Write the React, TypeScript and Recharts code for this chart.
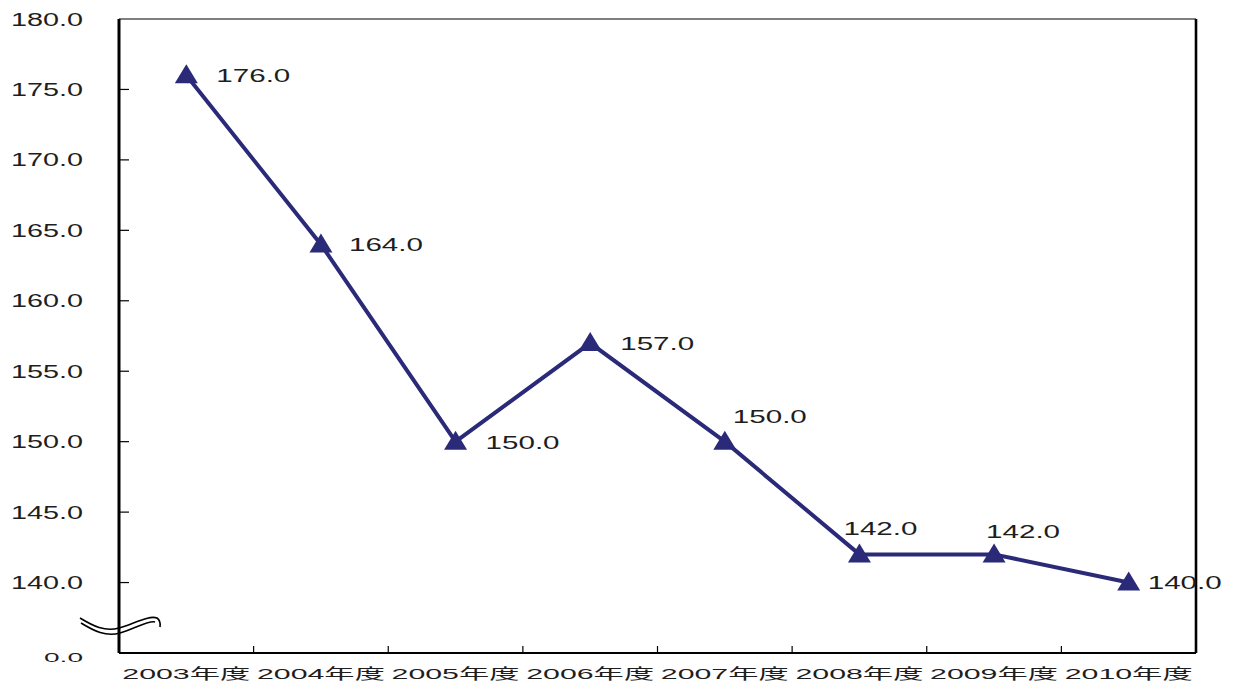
import React from "react";
import {LineChart, Line, XAxis, YAxis, CartesianGrid} from "recharts";

const years = ["2003年度", "2004年度", "2005年度", "2006年度", "2007年度", "2008年度", "2009年度", "2010年度"];
const values = [176, 164, 150, 157, 150, 142, 142, 140];
const yTicks = [135, 140, 145, 150, 155, 160, 165, 170, 175, 180];
// the lowest tick stands in for zero below the axis break
const BREAK_VALUE = 135;

const data = years.map((year, i) => ({year, value: values[i]}));

const WIDTH = 1233;
const HEIGHT = 684;
const MARGIN = {top: 19, right: 37, bottom: 0, left: 0};
const Y_AXIS_W = 119;
const X_AXIS_H = 31;
const BAND = (WIDTH - MARGIN.left - MARGIN.right - Y_AXIS_W) / years.length;

const NAVY = "#2a2a78";
const TEXT = "#1e1e1e";
const FONT = "'Liberation Sans', 'Noto Sans CJK JP', sans-serif";

// per-point label placement (dx from point to text start, dy to text middle)
const labelOffsets: [number, number][] = [
    [30, 0], [28, 0], [30, 1], [30, 0], [8, -25], [-16, -26], [-8, -23], [19, 0],
];

// @ts-ignore
const YTick = ({x, y, payload}) => {
    const v = payload.value;
    const isZero = v === BREAK_VALUE;
    return (
        <g>
            {!isZero && v !== 180 && <line x1={x} y1={y} x2={x + 10} y2={y} stroke="#000" strokeWidth={1.2}/>}
            <text x={x - 36} y={y + (isZero ? 9 : 6.6)} textAnchor="end" fill={TEXT}
                  fontFamily={FONT} fontSize={isZero ? 13 : 18}
                  textLength={isZero ? 39 : 72} lengthAdjust="spacingAndGlyphs">
                {isZero ? "0.0" : v.toFixed(1)}
            </text>
            {isZero && (
                // wavy break marks across the axis
                <g fill="none" stroke="#000" strokeWidth={1.6}>
                    <path d={`M ${x - 39} ${y - 35} C ${x - 26} ${y - 27}, ${x - 14} ${y - 21}, ${x} ${y - 25} S ${x + 30} ${y - 38}, ${x + 38} ${y - 35} Q ${x + 42} ${y - 32}, ${x + 41} ${y - 26}`}/>
                    <path d={`M ${x - 38} ${y - 30} C ${x - 25} ${y - 22}, ${x - 13} ${y - 16}, ${x + 1} ${y - 20} S ${x + 30} ${y - 33}, ${x + 36} ${y - 31}`}/>
                </g>
            )}
        </g>
    );
};

// @ts-ignore
const XTick = ({x, y, payload, index}) => (
    <g>
        {index < years.length - 1 &&
            <line x1={x + BAND / 2} y1={y} x2={x + BAND / 2} y2={y - 7} stroke="#000" strokeWidth={1.2}/>}
        <text x={x} y={y + 26} textAnchor="middle" fill={TEXT} fontFamily={FONT} fontSize={15}
              textLength={128} lengthAdjust="spacingAndGlyphs">
            {payload.value}
        </text>
    </g>
);

// @ts-ignore
const Triangle = ({cx, cy, index}) => (
    <polygon key={`tri-${index}`}
             points={`${cx},${cy - 11} ${cx + 11.5},${cy + 8} ${cx - 11.5},${cy + 8}`}
             fill={NAVY}/>
);

// @ts-ignore
const renderLabel = ({x, y, value, index}) => {
    const [dx, dy] = labelOffsets[index];
    return (
        <text key={`lbl-${index}`} x={x + dx} y={y + dy + 6.6} fill={TEXT} fontFamily={FONT}
              fontSize={18} textLength={74} lengthAdjust="spacingAndGlyphs">
            {Number(value).toFixed(1)}
        </text>
    );
};

// frame edges of the plot area: top and right
// @ts-ignore
const topEdge = ({offset}) => [offset.top];
// @ts-ignore
const rightEdge = ({offset}) => [offset.left + offset.width];

export default function App() {
    return (
        <div style={{position: "absolute", left: 0, top: 0, width: WIDTH, height: HEIGHT, background: "#fff"}}>
            <LineChart width={WIDTH} height={HEIGHT} data={data} margin={MARGIN}>
                <CartesianGrid vertical={false} horizontalCoordinatesGenerator={topEdge}
                               stroke="#000" strokeWidth={1.2} strokeOpacity={1}/>
                <CartesianGrid horizontal={false} verticalCoordinatesGenerator={rightEdge}
                               stroke="#000" strokeWidth={2.6} strokeOpacity={1}/>
                <XAxis dataKey="year" type="category" scale="band" height={X_AXIS_H} interval={0}
                       axisLine={{stroke: "#000", strokeWidth: 2.2}} tickLine={false}
                       tickSize={0} tickMargin={0} tick={XTick}/>
                <YAxis type="number" domain={[BREAK_VALUE, 180]} ticks={yTicks} width={Y_AXIS_W}
                       interval={0} axisLine={{stroke: "#000", strokeWidth: 3}} tickLine={false}
                       tickSize={0} tickMargin={0} tick={YTick}/>
                <Line dataKey="value" stroke={NAVY} strokeWidth={4} isAnimationActive={false}
                      dot={Triangle} activeDot={false} label={renderLabel}/>
            </LineChart>
        </div>
    );
}
